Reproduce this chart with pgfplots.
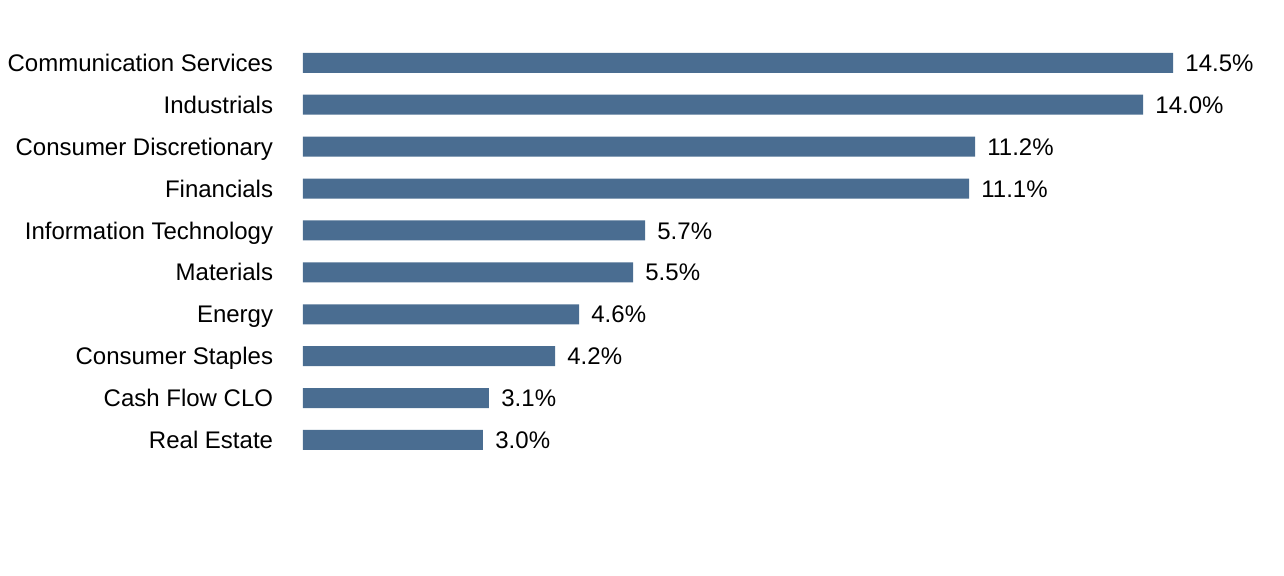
\documentclass[border=0pt]{standalone}
\usepackage{fontspec}
\setmainfont{Liberation Sans}
\usepackage{pgfplots}
\pgfplotsset{compat=1.18}
\definecolor{barblue}{RGB}{74,109,145}

\begin{document}
\begin{tikzpicture}
\begin{axis}[
  at={(0,0)}, anchor=south west,
  scale only axis,
  width=490.5pt, height=288pt,
  xbar, bar width=10pt,
  xmin=0, xmax=16.35,
  ymin=-3.246, ymax=10.50,
  axis line style={draw=none},
  major tick style={draw=none},
  xtick=\empty,
  ytick={0,...,9},
  yticklabels={Real Estate,Cash Flow CLO,Consumer Staples,Energy,Materials,
    Information Technology,Financials,Consumer Discretionary,Industrials,
    Communication Services},
  yticklabel style={anchor=east, inner sep=0pt, xshift=-10.5pt,
    text height=8.6pt, text depth=0pt,
    font=\fontsize{12}{14}\selectfont},
  /pgf/number format/assume math mode=true,
  nodes near coords={\pgfmathprintnumber[fixed,fixed zerofill,precision=1]{\pgfplotspointmeta}\%},
  nodes near coords style={anchor=west, inner sep=0pt, xshift=6pt,
    text height=8.6pt, text depth=0pt,
    font=\fontsize{12}{14}\selectfont, black},
  clip=false,
]
  \addplot[fill=barblue, draw=none] coordinates {
    (3.0,0) (3.1,1) (4.2,2) (4.6,3) (5.5,4)
    (5.7,5) (11.1,6) (11.2,7) (14.0,8) (14.5,9)};
\end{axis}
\pgfresetboundingbox
\path (-151.5pt,0) rectangle (490.5pt,288pt);
\end{tikzpicture}
\end{document}
